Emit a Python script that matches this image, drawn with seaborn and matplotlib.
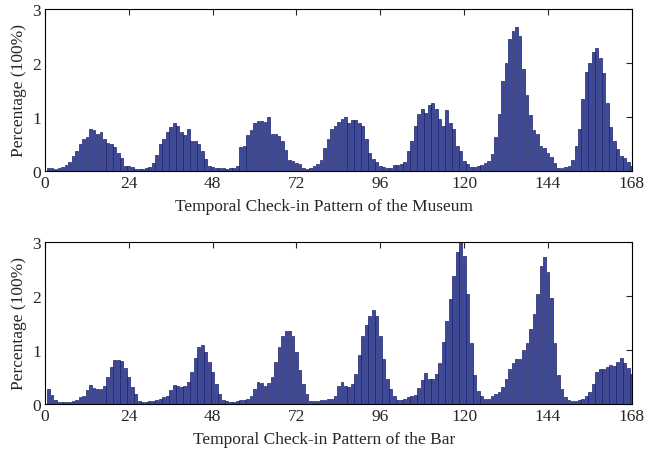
import pandas as pd
import matplotlib.pyplot as plt
import seaborn as sns

hours = list(range(1, 169))

museum = [
    0.06, 0.05, 0.04, 0.06, 0.07, 0.11, 0.17, 0.28, 0.37, 0.50, 0.59, 0.62,
    0.78, 0.75, 0.69, 0.72, 0.59, 0.51, 0.50, 0.45, 0.34, 0.24, 0.09, 0.09,
    0.08, 0.03, 0.03, 0.04, 0.06, 0.07, 0.15, 0.30, 0.50, 0.59, 0.72, 0.81,
    0.89, 0.84, 0.72, 0.66, 0.77, 0.56, 0.56, 0.50, 0.37, 0.22, 0.09, 0.07,
    0.05, 0.06, 0.05, 0.03, 0.06, 0.06, 0.10, 0.44, 0.47, 0.66, 0.76, 0.88,
    0.92, 0.92, 0.90, 1.00, 0.69, 0.68, 0.65, 0.56, 0.39, 0.20, 0.19, 0.15,
    0.12, 0.05, 0.03, 0.06, 0.10, 0.12, 0.20, 0.42, 0.60, 0.78, 0.84, 0.91,
    0.96, 1.00, 0.88, 0.94, 0.95, 0.89, 0.84, 0.59, 0.34, 0.22, 0.16, 0.10,
    0.08, 0.05, 0.05, 0.11, 0.11, 0.13, 0.17, 0.37, 0.56, 0.84, 1.06, 1.14,
    1.08, 1.23, 1.25, 1.14, 0.97, 0.84, 1.12, 0.88, 0.78, 0.47, 0.37, 0.19,
    0.12, 0.08, 0.08, 0.09, 0.11, 0.14, 0.19, 0.31, 0.63, 1.06, 1.66, 2.00,
    2.44, 2.60, 2.66, 2.50, 1.88, 1.40, 1.03, 0.75, 0.69, 0.47, 0.43, 0.34,
    0.25, 0.14, 0.06, 0.05, 0.07, 0.10, 0.20, 0.47, 0.78, 1.34, 1.84, 2.00,
    2.20, 2.28, 2.09, 1.81, 1.25, 0.81, 0.56, 0.41, 0.28, 0.24, 0.16, 0.09,
]

bar = [
    0.28, 0.16, 0.08, 0.04, 0.03, 0.03, 0.04, 0.06, 0.08, 0.12, 0.14, 0.25,
    0.36, 0.29, 0.28, 0.28, 0.34, 0.50, 0.69, 0.81, 0.81, 0.79, 0.66, 0.50,
    0.31, 0.19, 0.06, 0.04, 0.03, 0.05, 0.06, 0.07, 0.09, 0.12, 0.14, 0.26,
    0.36, 0.34, 0.31, 0.33, 0.41, 0.59, 0.86, 1.06, 1.10, 0.97, 0.78, 0.59,
    0.37, 0.19, 0.07, 0.05, 0.04, 0.03, 0.05, 0.07, 0.08, 0.10, 0.14, 0.28,
    0.41, 0.38, 0.34, 0.39, 0.50, 0.78, 1.06, 1.25, 1.36, 1.36, 1.25, 0.97,
    0.63, 0.37, 0.19, 0.06, 0.05, 0.05, 0.07, 0.08, 0.09, 0.10, 0.14, 0.34,
    0.40, 0.33, 0.31, 0.37, 0.55, 0.90, 1.25, 1.47, 1.63, 1.74, 1.63, 1.25,
    0.84, 0.47, 0.28, 0.14, 0.08, 0.08, 0.09, 0.12, 0.14, 0.17, 0.30, 0.44,
    0.58, 0.47, 0.47, 0.56, 0.76, 1.14, 1.53, 1.94, 2.38, 2.81, 3.00, 2.74,
    2.03, 1.13, 0.53, 0.24, 0.14, 0.10, 0.10, 0.14, 0.19, 0.22, 0.31, 0.47,
    0.64, 0.75, 0.83, 0.84, 1.00, 1.13, 1.38, 1.66, 2.03, 2.55, 2.72, 2.44,
    1.97, 1.13, 0.53, 0.28, 0.12, 0.07, 0.05, 0.06, 0.07, 0.09, 0.14, 0.22,
    0.37, 0.59, 0.64, 0.64, 0.69, 0.72, 0.70, 0.78, 0.86, 0.75, 0.66, 0.56,
]

titles = ["Temporal Check-in Pattern of the Museum", "Temporal Check-in Pattern of the Bar"]
xticks = [0, 24, 48, 72, 96, 120, 144, 168]
yticks = [0, 1, 2, 3]

sns.set_style("white")
plt.rcParams['font.family'] = ['Liberation Serif', 'DejaVu Serif']
plt.rcParams['font.size'] = 12.5

fig = plt.figure(figsize=(6.46, 4.56), dpi=100)
ax1 = fig.add_axes([0.0697, 0.623, 0.9083, 0.355])
ax2 = fig.add_axes([0.0697, 0.112, 0.9083, 0.355])

for ax, vals, label in [(ax1, museum, titles[0]), (ax2, bar, titles[1])]:
    df = pd.DataFrame({'hour': hours, 'pct': vals})
    sns.barplot(data=df, x='hour', y='pct', native_scale=True, ax=ax,
                color='#3d4a9c', saturation=1, width=0.8,
                edgecolor='#1c2068', linewidth=0.5, errorbar=None)
    ax.set_xlim(0, 168)
    ax.set_ylim(0, 3)
    ax.set_xticks(xticks)
    ax.set_yticks(yticks)
    ax.set_xlabel(label, fontsize=12.5, labelpad=3)
    ax.xaxis.set_label_coords(0.475, -0.17)
    ax.set_ylabel('Percentage (100%)', fontsize=12.5, labelpad=4)
    ax.tick_params(direction='in', top=True, right=True, length=4,
                   width=0.8, labelsize=12.5, pad=3)
    for s in ax.spines.values():
        s.set_visible(True)
        s.set_color('black')
        s.set_linewidth(0.8)

fig.savefig('out.png', dpi=100)
